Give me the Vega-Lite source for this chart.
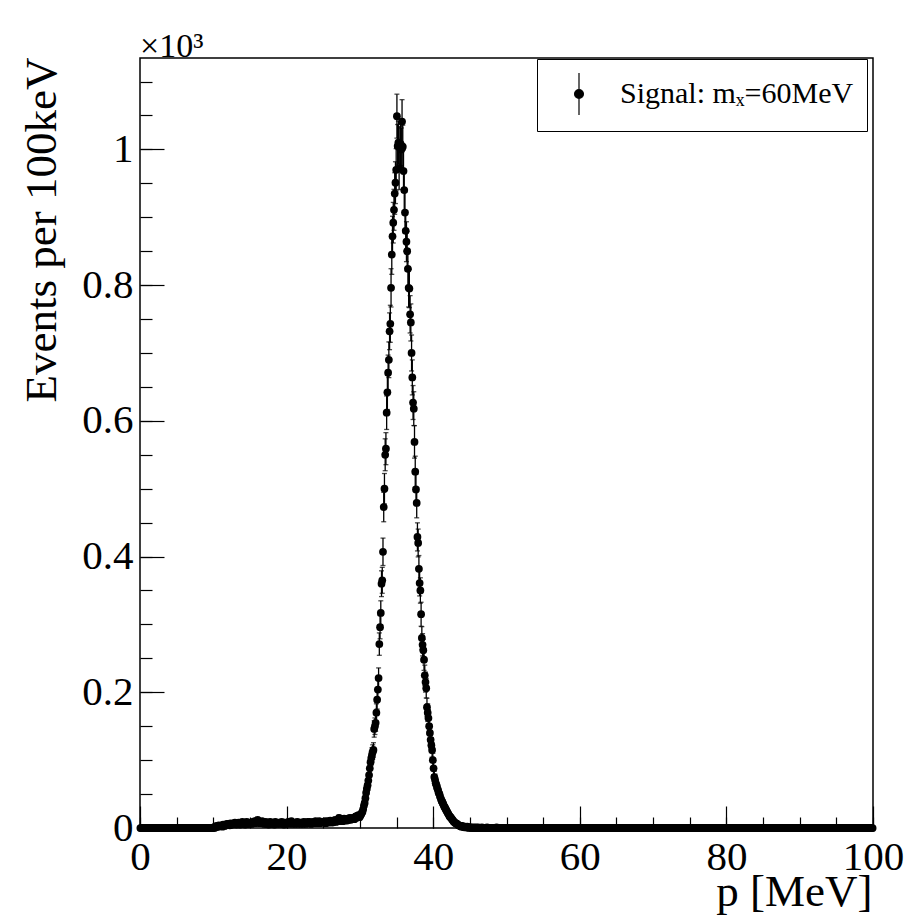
{
"$schema":"https://vega.github.io/schema/vega-lite/v6.json",
"autosize":{"type":"none"},
"padding":{"left":140,"top":58,"right":32,"bottom":87},
"width":733,"height":770,
"background":"white",
"title":{"text":"×10³","anchor":"start","frame":"group","fontSize":34,"font":"Liberation Serif","fontWeight":"normal","color":"black","baseline":"alphabetic","offset":6,"dy":40},
"config":{"view":{"stroke":"black","strokeWidth":1.5},"font":"Liberation Serif"},
"data":{"values":[
{"p":0.05,"n":0},{"p":0.15,"n":0},{"p":0.25,"n":0},{"p":0.35,"n":0},{"p":0.45,"n":0},{"p":0.55,"n":0},{"p":0.65,"n":0},{"p":0.75,"n":0},{"p":0.85,"n":0},{"p":0.95,"n":0},
{"p":1.05,"n":0},{"p":1.15,"n":0},{"p":1.25,"n":0},{"p":1.35,"n":0},{"p":1.45,"n":0},{"p":1.55,"n":0},{"p":1.65,"n":0},{"p":1.75,"n":0},{"p":1.85,"n":0},{"p":1.95,"n":0},
{"p":2.05,"n":0},{"p":2.15,"n":0},{"p":2.25,"n":0},{"p":2.35,"n":0},{"p":2.45,"n":0},{"p":2.55,"n":0},{"p":2.65,"n":0},{"p":2.75,"n":0},{"p":2.85,"n":0},{"p":2.95,"n":0},
{"p":3.05,"n":0},{"p":3.15,"n":0},{"p":3.25,"n":0},{"p":3.35,"n":0},{"p":3.45,"n":0},{"p":3.55,"n":0},{"p":3.65,"n":0},{"p":3.75,"n":0},{"p":3.85,"n":0},{"p":3.95,"n":0},
{"p":4.05,"n":0},{"p":4.15,"n":0},{"p":4.25,"n":0},{"p":4.35,"n":0},{"p":4.45,"n":0},{"p":4.55,"n":0},{"p":4.65,"n":0},{"p":4.75,"n":0},{"p":4.85,"n":0},{"p":4.95,"n":0},
{"p":5.05,"n":0},{"p":5.15,"n":0},{"p":5.25,"n":0},{"p":5.35,"n":0},{"p":5.45,"n":0},{"p":5.55,"n":0},{"p":5.65,"n":0},{"p":5.75,"n":0},{"p":5.85,"n":0},{"p":5.95,"n":0},
{"p":6.05,"n":0},{"p":6.15,"n":0},{"p":6.25,"n":0},{"p":6.35,"n":0},{"p":6.45,"n":0},{"p":6.55,"n":0},{"p":6.65,"n":0},{"p":6.75,"n":0},{"p":6.85,"n":0},{"p":6.95,"n":0},
{"p":7.05,"n":0},{"p":7.15,"n":0},{"p":7.25,"n":0},{"p":7.35,"n":0},{"p":7.45,"n":0},{"p":7.55,"n":0},{"p":7.65,"n":0},{"p":7.75,"n":0},{"p":7.85,"n":0},{"p":7.95,"n":0},
{"p":8.05,"n":0},{"p":8.15,"n":0},{"p":8.25,"n":0},{"p":8.35,"n":0},{"p":8.45,"n":0},{"p":8.55,"n":0},{"p":8.65,"n":0},{"p":8.75,"n":0},{"p":8.85,"n":0},{"p":8.95,"n":0},
{"p":9.05,"n":0},{"p":9.15,"n":0},{"p":9.25,"n":0},{"p":9.35,"n":0},{"p":9.45,"n":0},{"p":9.55,"n":0},{"p":9.65,"n":0},{"p":9.75,"n":0},{"p":9.85,"n":0},{"p":9.95,"n":0},
{"p":10.05,"n":1,"e":1},{"p":10.15,"n":0},{"p":10.25,"n":2,"e":1.4},{"p":10.35,"n":1,"e":1},{"p":10.45,"n":3,"e":1.7},{"p":10.55,"n":2,"e":1.4},{"p":10.65,"n":2,"e":1.4},{"p":10.75,"n":4,"e":2},{"p":10.85,"n":3,"e":1.7},{"p":10.95,"n":3,"e":1.7},
{"p":11.05,"n":3,"e":1.7},{"p":11.15,"n":4,"e":2},{"p":11.25,"n":2,"e":1.4},{"p":11.35,"n":5,"e":2.2},{"p":11.45,"n":4,"e":2},{"p":11.55,"n":3,"e":1.7},{"p":11.65,"n":5,"e":2.2},{"p":11.75,"n":4,"e":2},{"p":11.85,"n":6,"e":2.4},{"p":11.95,"n":5,"e":2.2},
{"p":12.05,"n":5,"e":2.2},{"p":12.15,"n":6,"e":2.4},{"p":12.25,"n":4,"e":2},{"p":12.35,"n":7,"e":2.6},{"p":12.45,"n":5,"e":2.2},{"p":12.55,"n":6,"e":2.4},{"p":12.65,"n":5,"e":2.2},{"p":12.75,"n":7,"e":2.6},{"p":12.85,"n":6,"e":2.4},{"p":12.95,"n":8,"e":2.8},
{"p":13.05,"n":6,"e":2.4},{"p":13.15,"n":5,"e":2.2},{"p":13.25,"n":7,"e":2.6},{"p":13.35,"n":6,"e":2.4},{"p":13.45,"n":8,"e":2.8},{"p":13.55,"n":7,"e":2.6},{"p":13.65,"n":5,"e":2.2},{"p":13.75,"n":6,"e":2.4},{"p":13.85,"n":7,"e":2.6},{"p":13.95,"n":9,"e":3},
{"p":14.05,"n":7,"e":2.6},{"p":14.15,"n":6,"e":2.4},{"p":14.25,"n":8,"e":2.8},{"p":14.35,"n":5,"e":2.2},{"p":14.45,"n":7,"e":2.6},{"p":14.55,"n":9,"e":3},{"p":14.65,"n":6,"e":2.4},{"p":14.75,"n":8,"e":2.8},{"p":14.85,"n":7,"e":2.6},{"p":14.95,"n":6,"e":2.4},
{"p":15.05,"n":8,"e":2.8},{"p":15.15,"n":7,"e":2.6},{"p":15.25,"n":6,"e":2.4},{"p":15.35,"n":9,"e":3},{"p":15.45,"n":7,"e":2.6},{"p":15.55,"n":8,"e":2.8},{"p":15.65,"n":10,"e":3.2},{"p":15.75,"n":7,"e":2.6},{"p":15.85,"n":9,"e":3},{"p":15.95,"n":8,"e":2.8},
{"p":16.05,"n":12,"e":3.5},{"p":16.15,"n":9,"e":3},{"p":16.25,"n":8,"e":2.8},{"p":16.35,"n":7,"e":2.6},{"p":16.45,"n":9,"e":3},{"p":16.55,"n":8,"e":2.8},{"p":16.65,"n":10,"e":3.2},{"p":16.75,"n":7,"e":2.6},{"p":16.85,"n":8,"e":2.8},{"p":16.95,"n":6,"e":2.4},
{"p":17.05,"n":7,"e":2.6},{"p":17.15,"n":9,"e":3},{"p":17.25,"n":6,"e":2.4},{"p":17.35,"n":8,"e":2.8},{"p":17.45,"n":7,"e":2.6},{"p":17.55,"n":5,"e":2.2},{"p":17.65,"n":8,"e":2.8},{"p":17.75,"n":9,"e":3},{"p":17.85,"n":7,"e":2.6},{"p":17.95,"n":6,"e":2.4},
{"p":18.05,"n":8,"e":2.8},{"p":18.15,"n":6,"e":2.4},{"p":18.25,"n":7,"e":2.6},{"p":18.35,"n":5,"e":2.2},{"p":18.45,"n":9,"e":3},{"p":18.55,"n":7,"e":2.6},{"p":18.65,"n":8,"e":2.8},{"p":18.75,"n":6,"e":2.4},{"p":18.85,"n":7,"e":2.6},{"p":18.95,"n":8,"e":2.8},
{"p":19.05,"n":6,"e":2.4},{"p":19.15,"n":8,"e":2.8},{"p":19.25,"n":7,"e":2.6},{"p":19.35,"n":9,"e":3},{"p":19.45,"n":6,"e":2.4},{"p":19.55,"n":7,"e":2.6},{"p":19.65,"n":5,"e":2.2},{"p":19.75,"n":8,"e":2.8},{"p":19.85,"n":6,"e":2.4},{"p":19.95,"n":7,"e":2.6},
{"p":20.05,"n":8,"e":2.8},{"p":20.15,"n":7,"e":2.6},{"p":20.25,"n":9,"e":3},{"p":20.35,"n":6,"e":2.4},{"p":20.45,"n":8,"e":2.8},{"p":20.55,"n":7,"e":2.6},{"p":20.65,"n":10,"e":3.2},{"p":20.75,"n":8,"e":2.8},{"p":20.85,"n":6,"e":2.4},{"p":20.95,"n":7,"e":2.6},
{"p":21.05,"n":7,"e":2.6},{"p":21.15,"n":6,"e":2.4},{"p":21.25,"n":8,"e":2.8},{"p":21.35,"n":7,"e":2.6},{"p":21.45,"n":9,"e":3},{"p":21.55,"n":6,"e":2.4},{"p":21.65,"n":8,"e":2.8},{"p":21.75,"n":7,"e":2.6},{"p":21.85,"n":8,"e":2.8},{"p":21.95,"n":6,"e":2.4},
{"p":22.05,"n":8,"e":2.8},{"p":22.15,"n":7,"e":2.6},{"p":22.25,"n":6,"e":2.4},{"p":22.35,"n":9,"e":3},{"p":22.45,"n":7,"e":2.6},{"p":22.55,"n":8,"e":2.8},{"p":22.65,"n":6,"e":2.4},{"p":22.75,"n":7,"e":2.6},{"p":22.85,"n":9,"e":3},{"p":22.95,"n":8,"e":2.8},
{"p":23.05,"n":7,"e":2.6},{"p":23.15,"n":9,"e":3},{"p":23.25,"n":8,"e":2.8},{"p":23.35,"n":6,"e":2.4},{"p":23.45,"n":8,"e":2.8},{"p":23.55,"n":7,"e":2.6},{"p":23.65,"n":9,"e":3},{"p":23.75,"n":8,"e":2.8},{"p":23.85,"n":7,"e":2.6},{"p":23.95,"n":10,"e":3.2},
{"p":24.05,"n":8,"e":2.8},{"p":24.15,"n":9,"e":3},{"p":24.25,"n":7,"e":2.6},{"p":24.35,"n":8,"e":2.8},{"p":24.45,"n":10,"e":3.2},{"p":24.55,"n":7,"e":2.6},{"p":24.65,"n":9,"e":3},{"p":24.75,"n":8,"e":2.8},{"p":24.85,"n":9,"e":3},{"p":24.95,"n":8,"e":2.8},
{"p":25.05,"n":9,"e":3},{"p":25.15,"n":8,"e":2.8},{"p":25.25,"n":10,"e":3.2},{"p":25.35,"n":7,"e":2.6},{"p":25.45,"n":9,"e":3},{"p":25.55,"n":8,"e":2.8},{"p":25.65,"n":10,"e":3.2},{"p":25.75,"n":9,"e":3},{"p":25.85,"n":8,"e":2.8},{"p":25.95,"n":11,"e":3.3},
{"p":26.05,"n":9,"e":3},{"p":26.15,"n":10,"e":3.2},{"p":26.25,"n":8,"e":2.8},{"p":26.35,"n":11,"e":3.3},{"p":26.45,"n":9,"e":3},{"p":26.55,"n":10,"e":3.2},{"p":26.65,"n":12,"e":3.5},{"p":26.75,"n":9,"e":3},{"p":26.85,"n":11,"e":3.3},{"p":26.95,"n":10,"e":3.2},
{"p":27.05,"n":11,"e":3.3},{"p":27.15,"n":15,"e":3.9},{"p":27.25,"n":10,"e":3.2},{"p":27.35,"n":12,"e":3.5},{"p":27.45,"n":11,"e":3.3},{"p":27.55,"n":13,"e":3.6},{"p":27.65,"n":10,"e":3.2},{"p":27.75,"n":12,"e":3.5},{"p":27.85,"n":14,"e":3.7},{"p":27.95,"n":11,"e":3.3},
{"p":28.05,"n":12,"e":3.5},{"p":28.15,"n":13,"e":3.6},{"p":28.25,"n":11,"e":3.3},{"p":28.35,"n":14,"e":3.7},{"p":28.45,"n":12,"e":3.5},{"p":28.55,"n":13,"e":3.6},{"p":28.65,"n":15,"e":3.9},{"p":28.75,"n":12,"e":3.5},{"p":28.85,"n":14,"e":3.7},{"p":28.95,"n":13,"e":3.6},
{"p":29.05,"n":14,"e":3.7},{"p":29.15,"n":15,"e":3.9},{"p":29.25,"n":13,"e":3.6},{"p":29.35,"n":16,"e":4},{"p":29.45,"n":17,"e":4.1},{"p":29.55,"n":15,"e":3.9},{"p":29.65,"n":18,"e":4.2},{"p":29.75,"n":17,"e":4.1},{"p":29.85,"n":19,"e":4.4},{"p":29.95,"n":16,"e":4},
{"p":30.05,"n":18,"e":4.2},{"p":30.15,"n":20,"e":4.5},{"p":30.25,"n":22,"e":4.7},{"p":30.35,"n":24,"e":4.9},{"p":30.45,"n":28,"e":5.3},{"p":30.55,"n":33,"e":5.7},{"p":30.65,"n":37,"e":6.1},{"p":30.75,"n":44,"e":6.6},{"p":30.85,"n":52,"e":7.2},{"p":30.95,"n":58,"e":7.6},
{"p":31.05,"n":63,"e":7.9},{"p":31.15,"n":70,"e":8.4},{"p":31.25,"n":78,"e":8.8},{"p":31.35,"n":88,"e":9.4},{"p":31.45,"n":97,"e":9.8},{"p":31.55,"n":103,"e":10.1},{"p":31.65,"n":108,"e":10.4},{"p":31.75,"n":112,"e":10.6},{"p":31.85,"n":115,"e":10.7},{"p":31.95,"n":146,"e":12.1},
{"p":32.05,"n":150,"e":12.2},{"p":32.15,"n":155,"e":12.4},{"p":32.25,"n":170,"e":13},{"p":32.35,"n":189,"e":13.7},{"p":32.45,"n":204,"e":14.3},{"p":32.55,"n":221,"e":14.9},{"p":32.65,"n":271,"e":16.5},{"p":32.75,"n":296,"e":17.2},{"p":32.85,"n":317,"e":17.8},{"p":32.95,"n":360,"e":19},
{"p":33.05,"n":365,"e":19.1},{"p":33.15,"n":407,"e":20.2},{"p":33.25,"n":473,"e":21.7},{"p":33.35,"n":500,"e":22.4},{"p":33.45,"n":550,"e":23.5},{"p":33.55,"n":559,"e":23.6},{"p":33.65,"n":612,"e":24.7},{"p":33.75,"n":642,"e":25.3},{"p":33.85,"n":671,"e":25.9},{"p":33.95,"n":690,"e":26.3},
{"p":34.05,"n":732,"e":27.1},{"p":34.15,"n":743,"e":27.3},{"p":34.25,"n":796,"e":28.2},{"p":34.35,"n":845,"e":29.1},{"p":34.45,"n":872,"e":29.5},{"p":34.55,"n":892,"e":29.9},{"p":34.65,"n":911,"e":30.2},{"p":34.75,"n":935,"e":30.6},{"p":34.85,"n":951,"e":30.8},{"p":34.95,"n":970,"e":31.1},
{"p":35.05,"n":1049,"e":32.4},{"p":35.15,"n":1005,"e":31.7},{"p":35.25,"n":1010,"e":31.8},{"p":35.35,"n":972,"e":31.2},{"p":35.45,"n":1002,"e":31.7},{"p":35.55,"n":1008,"e":31.7},{"p":35.65,"n":1000,"e":31.6},{"p":35.75,"n":1041,"e":32.3},{"p":35.85,"n":1004,"e":31.7},{"p":35.95,"n":968,"e":31.1},
{"p":36.05,"n":940,"e":30.7},{"p":36.15,"n":907,"e":30.1},{"p":36.25,"n":880,"e":29.7},{"p":36.35,"n":864,"e":29.4},{"p":36.45,"n":850,"e":29.2},{"p":36.55,"n":824,"e":28.7},{"p":36.65,"n":796,"e":28.2},{"p":36.75,"n":795,"e":28.2},{"p":36.85,"n":757,"e":27.5},{"p":36.95,"n":745,"e":27.3},
{"p":37.05,"n":700,"e":26.5},{"p":37.15,"n":664,"e":25.8},{"p":37.25,"n":627,"e":25},{"p":37.35,"n":618,"e":24.9},{"p":37.45,"n":569,"e":23.9},{"p":37.55,"n":525,"e":22.9},{"p":37.65,"n":499,"e":22.3},{"p":37.75,"n":479,"e":21.9},{"p":37.85,"n":429,"e":20.7},{"p":37.95,"n":420,"e":20.5},
{"p":38.05,"n":382,"e":19.5},{"p":38.15,"n":361,"e":19},{"p":38.25,"n":350,"e":18.7},{"p":38.35,"n":315,"e":17.7},{"p":38.45,"n":280,"e":16.7},{"p":38.55,"n":270,"e":16.4},{"p":38.65,"n":262,"e":16.2},{"p":38.75,"n":248,"e":15.7},{"p":38.85,"n":225,"e":15},{"p":38.95,"n":215,"e":14.7},
{"p":39.05,"n":206,"e":14.4},{"p":39.15,"n":178,"e":13.3},{"p":39.25,"n":170,"e":13},{"p":39.35,"n":162,"e":12.7},{"p":39.45,"n":150,"e":12.2},{"p":39.55,"n":140,"e":11.8},{"p":39.65,"n":130,"e":11.4},{"p":39.75,"n":122,"e":11},{"p":39.85,"n":115,"e":10.7},{"p":39.95,"n":100,"e":10},
{"p":40.05,"n":88,"e":9.4},{"p":40.15,"n":75,"e":8.7},{"p":40.25,"n":71,"e":8.4},{"p":40.35,"n":66,"e":8.1},{"p":40.45,"n":63,"e":7.9},{"p":40.55,"n":59,"e":7.7},{"p":40.65,"n":56,"e":7.5},{"p":40.75,"n":52,"e":7.2},{"p":40.85,"n":50,"e":7.1},{"p":40.95,"n":46,"e":6.8},
{"p":41.05,"n":43,"e":6.6},{"p":41.15,"n":40,"e":6.3},{"p":41.25,"n":38,"e":6.2},{"p":41.35,"n":36,"e":6},{"p":41.45,"n":33,"e":5.7},{"p":41.55,"n":31,"e":5.6},{"p":41.65,"n":29,"e":5.4},{"p":41.75,"n":27,"e":5.2},{"p":41.85,"n":25,"e":5},{"p":41.95,"n":23,"e":4.8},
{"p":42.05,"n":21,"e":4.6},{"p":42.15,"n":19,"e":4.4},{"p":42.25,"n":17,"e":4.1},{"p":42.35,"n":16,"e":4},{"p":42.45,"n":15,"e":3.9},{"p":42.55,"n":13,"e":3.6},{"p":42.65,"n":12,"e":3.5},{"p":42.75,"n":10,"e":3.2},{"p":42.85,"n":9,"e":3},{"p":42.95,"n":8,"e":2.8},
{"p":43.05,"n":7,"e":2.6},{"p":43.15,"n":7,"e":2.6},{"p":43.25,"n":6,"e":2.4},{"p":43.35,"n":5,"e":2.2},{"p":43.45,"n":4,"e":2},{"p":43.55,"n":4,"e":2},{"p":43.65,"n":3,"e":1.7},{"p":43.75,"n":3,"e":1.7},{"p":43.85,"n":2,"e":1.4},{"p":43.95,"n":3,"e":1.7},
{"p":44.05,"n":2,"e":1.4},{"p":44.15,"n":2,"e":1.4},{"p":44.25,"n":1,"e":1},{"p":44.35,"n":2,"e":1.4},{"p":44.45,"n":1,"e":1},{"p":44.55,"n":1,"e":1},{"p":44.65,"n":2,"e":1.4},{"p":44.75,"n":1,"e":1},{"p":44.85,"n":0},{"p":44.95,"n":1,"e":1},
{"p":45.05,"n":1,"e":1},{"p":45.15,"n":0},{"p":45.25,"n":1,"e":1},{"p":45.35,"n":0},{"p":45.45,"n":0},{"p":45.55,"n":1,"e":1},{"p":45.65,"n":0},{"p":45.75,"n":0},{"p":45.85,"n":1,"e":1},{"p":45.95,"n":0},
{"p":46.05,"n":0},{"p":46.15,"n":1,"e":1},{"p":46.25,"n":0},{"p":46.35,"n":0},{"p":46.45,"n":0},{"p":46.55,"n":0},{"p":46.65,"n":1,"e":1},{"p":46.75,"n":0},{"p":46.85,"n":0},{"p":46.95,"n":0},
{"p":47.05,"n":0},{"p":47.15,"n":0},{"p":47.25,"n":0},{"p":47.35,"n":1,"e":1},{"p":47.45,"n":0},{"p":47.55,"n":0},{"p":47.65,"n":0},{"p":47.75,"n":0},{"p":47.85,"n":0},{"p":47.95,"n":0},
{"p":48.05,"n":0},{"p":48.15,"n":0},{"p":48.25,"n":0},{"p":48.35,"n":0},{"p":48.45,"n":0},{"p":48.55,"n":0},{"p":48.65,"n":1,"e":1},{"p":48.75,"n":0},{"p":48.85,"n":0},{"p":48.95,"n":0},
{"p":49.05,"n":0},{"p":49.15,"n":0},{"p":49.25,"n":0},{"p":49.35,"n":0},{"p":49.45,"n":0},{"p":49.55,"n":0},{"p":49.65,"n":0},{"p":49.75,"n":0},{"p":49.85,"n":0},{"p":49.95,"n":0},
{"p":50.05,"n":0},{"p":50.15,"n":0},{"p":50.25,"n":0},{"p":50.35,"n":0},{"p":50.45,"n":0},{"p":50.55,"n":0},{"p":50.65,"n":0},{"p":50.75,"n":0},{"p":50.85,"n":0},{"p":50.95,"n":0},
{"p":51.05,"n":0},{"p":51.15,"n":0},{"p":51.25,"n":0},{"p":51.35,"n":0},{"p":51.45,"n":0},{"p":51.55,"n":0},{"p":51.65,"n":0},{"p":51.75,"n":0},{"p":51.85,"n":0},{"p":51.95,"n":0},
{"p":52.05,"n":0},{"p":52.15,"n":0},{"p":52.25,"n":0},{"p":52.35,"n":0},{"p":52.45,"n":0},{"p":52.55,"n":0},{"p":52.65,"n":0},{"p":52.75,"n":0},{"p":52.85,"n":0},{"p":52.95,"n":0},
{"p":53.05,"n":0},{"p":53.15,"n":0},{"p":53.25,"n":0},{"p":53.35,"n":0},{"p":53.45,"n":0},{"p":53.55,"n":0},{"p":53.65,"n":0},{"p":53.75,"n":0},{"p":53.85,"n":0},{"p":53.95,"n":0},
{"p":54.05,"n":0},{"p":54.15,"n":0},{"p":54.25,"n":0},{"p":54.35,"n":0},{"p":54.45,"n":0},{"p":54.55,"n":0},{"p":54.65,"n":0},{"p":54.75,"n":0},{"p":54.85,"n":0},{"p":54.95,"n":0},
{"p":55.05,"n":0},{"p":55.15,"n":0},{"p":55.25,"n":0},{"p":55.35,"n":0},{"p":55.45,"n":0},{"p":55.55,"n":0},{"p":55.65,"n":0},{"p":55.75,"n":0},{"p":55.85,"n":0},{"p":55.95,"n":0},
{"p":56.05,"n":0},{"p":56.15,"n":0},{"p":56.25,"n":0},{"p":56.35,"n":0},{"p":56.45,"n":0},{"p":56.55,"n":0},{"p":56.65,"n":0},{"p":56.75,"n":0},{"p":56.85,"n":0},{"p":56.95,"n":0},
{"p":57.05,"n":0},{"p":57.15,"n":0},{"p":57.25,"n":0},{"p":57.35,"n":0},{"p":57.45,"n":0},{"p":57.55,"n":0},{"p":57.65,"n":0},{"p":57.75,"n":0},{"p":57.85,"n":0},{"p":57.95,"n":0},
{"p":58.05,"n":0},{"p":58.15,"n":0},{"p":58.25,"n":0},{"p":58.35,"n":0},{"p":58.45,"n":0},{"p":58.55,"n":0},{"p":58.65,"n":0},{"p":58.75,"n":0},{"p":58.85,"n":0},{"p":58.95,"n":0},
{"p":59.05,"n":0},{"p":59.15,"n":0},{"p":59.25,"n":0},{"p":59.35,"n":0},{"p":59.45,"n":0},{"p":59.55,"n":0},{"p":59.65,"n":0},{"p":59.75,"n":0},{"p":59.85,"n":0},{"p":59.95,"n":0},
{"p":60.05,"n":0},{"p":60.15,"n":0},{"p":60.25,"n":0},{"p":60.35,"n":0},{"p":60.45,"n":0},{"p":60.55,"n":0},{"p":60.65,"n":0},{"p":60.75,"n":0},{"p":60.85,"n":0},{"p":60.95,"n":0},
{"p":61.05,"n":0},{"p":61.15,"n":0},{"p":61.25,"n":0},{"p":61.35,"n":0},{"p":61.45,"n":0},{"p":61.55,"n":0},{"p":61.65,"n":0},{"p":61.75,"n":0},{"p":61.85,"n":0},{"p":61.95,"n":0},
{"p":62.05,"n":0},{"p":62.15,"n":0},{"p":62.25,"n":0},{"p":62.35,"n":0},{"p":62.45,"n":0},{"p":62.55,"n":0},{"p":62.65,"n":0},{"p":62.75,"n":0},{"p":62.85,"n":0},{"p":62.95,"n":0},
{"p":63.05,"n":0},{"p":63.15,"n":0},{"p":63.25,"n":0},{"p":63.35,"n":0},{"p":63.45,"n":0},{"p":63.55,"n":0},{"p":63.65,"n":0},{"p":63.75,"n":0},{"p":63.85,"n":0},{"p":63.95,"n":0},
{"p":64.05,"n":0},{"p":64.15,"n":0},{"p":64.25,"n":0},{"p":64.35,"n":0},{"p":64.45,"n":0},{"p":64.55,"n":0},{"p":64.65,"n":0},{"p":64.75,"n":0},{"p":64.85,"n":0},{"p":64.95,"n":0},
{"p":65.05,"n":0},{"p":65.15,"n":0},{"p":65.25,"n":0},{"p":65.35,"n":0},{"p":65.45,"n":0},{"p":65.55,"n":0},{"p":65.65,"n":0},{"p":65.75,"n":0},{"p":65.85,"n":0},{"p":65.95,"n":0},
{"p":66.05,"n":0},{"p":66.15,"n":0},{"p":66.25,"n":0},{"p":66.35,"n":0},{"p":66.45,"n":0},{"p":66.55,"n":0},{"p":66.65,"n":0},{"p":66.75,"n":0},{"p":66.85,"n":0},{"p":66.95,"n":0},
{"p":67.05,"n":0},{"p":67.15,"n":0},{"p":67.25,"n":0},{"p":67.35,"n":0},{"p":67.45,"n":0},{"p":67.55,"n":0},{"p":67.65,"n":0},{"p":67.75,"n":0},{"p":67.85,"n":0},{"p":67.95,"n":0},
{"p":68.05,"n":0},{"p":68.15,"n":0},{"p":68.25,"n":0},{"p":68.35,"n":0},{"p":68.45,"n":0},{"p":68.55,"n":0},{"p":68.65,"n":0},{"p":68.75,"n":0},{"p":68.85,"n":0},{"p":68.95,"n":0},
{"p":69.05,"n":0},{"p":69.15,"n":0},{"p":69.25,"n":0},{"p":69.35,"n":0},{"p":69.45,"n":0},{"p":69.55,"n":0},{"p":69.65,"n":0},{"p":69.75,"n":0},{"p":69.85,"n":0},{"p":69.95,"n":0},
{"p":70.05,"n":0},{"p":70.15,"n":0},{"p":70.25,"n":0},{"p":70.35,"n":0},{"p":70.45,"n":0},{"p":70.55,"n":0},{"p":70.65,"n":0},{"p":70.75,"n":0},{"p":70.85,"n":0},{"p":70.95,"n":0},
{"p":71.05,"n":0},{"p":71.15,"n":0},{"p":71.25,"n":0},{"p":71.35,"n":0},{"p":71.45,"n":0},{"p":71.55,"n":0},{"p":71.65,"n":0},{"p":71.75,"n":0},{"p":71.85,"n":0},{"p":71.95,"n":0},
{"p":72.05,"n":0},{"p":72.15,"n":0},{"p":72.25,"n":0},{"p":72.35,"n":0},{"p":72.45,"n":0},{"p":72.55,"n":0},{"p":72.65,"n":0},{"p":72.75,"n":0},{"p":72.85,"n":0},{"p":72.95,"n":0},
{"p":73.05,"n":0},{"p":73.15,"n":0},{"p":73.25,"n":0},{"p":73.35,"n":0},{"p":73.45,"n":0},{"p":73.55,"n":0},{"p":73.65,"n":0},{"p":73.75,"n":0},{"p":73.85,"n":0},{"p":73.95,"n":0},
{"p":74.05,"n":0},{"p":74.15,"n":0},{"p":74.25,"n":0},{"p":74.35,"n":0},{"p":74.45,"n":0},{"p":74.55,"n":0},{"p":74.65,"n":0},{"p":74.75,"n":0},{"p":74.85,"n":0},{"p":74.95,"n":0},
{"p":75.05,"n":0},{"p":75.15,"n":0},{"p":75.25,"n":0},{"p":75.35,"n":0},{"p":75.45,"n":0},{"p":75.55,"n":0},{"p":75.65,"n":0},{"p":75.75,"n":0},{"p":75.85,"n":0},{"p":75.95,"n":0},
{"p":76.05,"n":0},{"p":76.15,"n":0},{"p":76.25,"n":0},{"p":76.35,"n":0},{"p":76.45,"n":0},{"p":76.55,"n":0},{"p":76.65,"n":0},{"p":76.75,"n":0},{"p":76.85,"n":0},{"p":76.95,"n":0},
{"p":77.05,"n":0},{"p":77.15,"n":0},{"p":77.25,"n":0},{"p":77.35,"n":0},{"p":77.45,"n":0},{"p":77.55,"n":0},{"p":77.65,"n":0},{"p":77.75,"n":0},{"p":77.85,"n":0},{"p":77.95,"n":0},
{"p":78.05,"n":0},{"p":78.15,"n":0},{"p":78.25,"n":0},{"p":78.35,"n":0},{"p":78.45,"n":0},{"p":78.55,"n":0},{"p":78.65,"n":0},{"p":78.75,"n":0},{"p":78.85,"n":0},{"p":78.95,"n":0},
{"p":79.05,"n":0},{"p":79.15,"n":0},{"p":79.25,"n":0},{"p":79.35,"n":0},{"p":79.45,"n":0},{"p":79.55,"n":0},{"p":79.65,"n":0},{"p":79.75,"n":0},{"p":79.85,"n":0},{"p":79.95,"n":0},
{"p":80.05,"n":0},{"p":80.15,"n":0},{"p":80.25,"n":0},{"p":80.35,"n":0},{"p":80.45,"n":0},{"p":80.55,"n":0},{"p":80.65,"n":0},{"p":80.75,"n":0},{"p":80.85,"n":0},{"p":80.95,"n":0},
{"p":81.05,"n":0},{"p":81.15,"n":0},{"p":81.25,"n":0},{"p":81.35,"n":0},{"p":81.45,"n":0},{"p":81.55,"n":0},{"p":81.65,"n":0},{"p":81.75,"n":0},{"p":81.85,"n":0},{"p":81.95,"n":0},
{"p":82.05,"n":0},{"p":82.15,"n":0},{"p":82.25,"n":0},{"p":82.35,"n":0},{"p":82.45,"n":0},{"p":82.55,"n":0},{"p":82.65,"n":0},{"p":82.75,"n":0},{"p":82.85,"n":0},{"p":82.95,"n":0},
{"p":83.05,"n":0},{"p":83.15,"n":0},{"p":83.25,"n":0},{"p":83.35,"n":0},{"p":83.45,"n":0},{"p":83.55,"n":0},{"p":83.65,"n":0},{"p":83.75,"n":0},{"p":83.85,"n":0},{"p":83.95,"n":0},
{"p":84.05,"n":0},{"p":84.15,"n":0},{"p":84.25,"n":0},{"p":84.35,"n":0},{"p":84.45,"n":0},{"p":84.55,"n":0},{"p":84.65,"n":0},{"p":84.75,"n":0},{"p":84.85,"n":0},{"p":84.95,"n":0},
{"p":85.05,"n":0},{"p":85.15,"n":0},{"p":85.25,"n":0},{"p":85.35,"n":0},{"p":85.45,"n":0},{"p":85.55,"n":0},{"p":85.65,"n":0},{"p":85.75,"n":0},{"p":85.85,"n":0},{"p":85.95,"n":0},
{"p":86.05,"n":0},{"p":86.15,"n":0},{"p":86.25,"n":0},{"p":86.35,"n":0},{"p":86.45,"n":0},{"p":86.55,"n":0},{"p":86.65,"n":0},{"p":86.75,"n":0},{"p":86.85,"n":0},{"p":86.95,"n":0},
{"p":87.05,"n":0},{"p":87.15,"n":0},{"p":87.25,"n":0},{"p":87.35,"n":0},{"p":87.45,"n":0},{"p":87.55,"n":0},{"p":87.65,"n":0},{"p":87.75,"n":0},{"p":87.85,"n":0},{"p":87.95,"n":0},
{"p":88.05,"n":0},{"p":88.15,"n":0},{"p":88.25,"n":0},{"p":88.35,"n":0},{"p":88.45,"n":0},{"p":88.55,"n":0},{"p":88.65,"n":0},{"p":88.75,"n":0},{"p":88.85,"n":0},{"p":88.95,"n":0},
{"p":89.05,"n":0},{"p":89.15,"n":0},{"p":89.25,"n":0},{"p":89.35,"n":0},{"p":89.45,"n":0},{"p":89.55,"n":0},{"p":89.65,"n":0},{"p":89.75,"n":0},{"p":89.85,"n":0},{"p":89.95,"n":0},
{"p":90.05,"n":0},{"p":90.15,"n":0},{"p":90.25,"n":0},{"p":90.35,"n":0},{"p":90.45,"n":0},{"p":90.55,"n":0},{"p":90.65,"n":0},{"p":90.75,"n":0},{"p":90.85,"n":0},{"p":90.95,"n":0},
{"p":91.05,"n":0},{"p":91.15,"n":0},{"p":91.25,"n":0},{"p":91.35,"n":0},{"p":91.45,"n":0},{"p":91.55,"n":0},{"p":91.65,"n":0},{"p":91.75,"n":0},{"p":91.85,"n":0},{"p":91.95,"n":0},
{"p":92.05,"n":0},{"p":92.15,"n":0},{"p":92.25,"n":0},{"p":92.35,"n":0},{"p":92.45,"n":0},{"p":92.55,"n":0},{"p":92.65,"n":0},{"p":92.75,"n":0},{"p":92.85,"n":0},{"p":92.95,"n":0},
{"p":93.05,"n":0},{"p":93.15,"n":0},{"p":93.25,"n":0},{"p":93.35,"n":0},{"p":93.45,"n":0},{"p":93.55,"n":0},{"p":93.65,"n":0},{"p":93.75,"n":0},{"p":93.85,"n":0},{"p":93.95,"n":0},
{"p":94.05,"n":0},{"p":94.15,"n":0},{"p":94.25,"n":0},{"p":94.35,"n":0},{"p":94.45,"n":0},{"p":94.55,"n":0},{"p":94.65,"n":0},{"p":94.75,"n":0},{"p":94.85,"n":0},{"p":94.95,"n":0},
{"p":95.05,"n":0},{"p":95.15,"n":0},{"p":95.25,"n":0},{"p":95.35,"n":0},{"p":95.45,"n":0},{"p":95.55,"n":0},{"p":95.65,"n":0},{"p":95.75,"n":0},{"p":95.85,"n":0},{"p":95.95,"n":0},
{"p":96.05,"n":0},{"p":96.15,"n":0},{"p":96.25,"n":0},{"p":96.35,"n":0},{"p":96.45,"n":0},{"p":96.55,"n":0},{"p":96.65,"n":0},{"p":96.75,"n":0},{"p":96.85,"n":0},{"p":96.95,"n":0},
{"p":97.05,"n":0},{"p":97.15,"n":0},{"p":97.25,"n":0},{"p":97.35,"n":0},{"p":97.45,"n":0},{"p":97.55,"n":0},{"p":97.65,"n":0},{"p":97.75,"n":0},{"p":97.85,"n":0},{"p":97.95,"n":0},
{"p":98.05,"n":0},{"p":98.15,"n":0},{"p":98.25,"n":0},{"p":98.35,"n":0},{"p":98.45,"n":0},{"p":98.55,"n":0},{"p":98.65,"n":0},{"p":98.75,"n":0},{"p":98.85,"n":0},{"p":98.95,"n":0},
{"p":99.05,"n":0},{"p":99.15,"n":0},{"p":99.25,"n":0},{"p":99.35,"n":0},{"p":99.45,"n":0},{"p":99.55,"n":0},{"p":99.65,"n":0},{"p":99.75,"n":0},{"p":99.85,"n":0},{"p":99.95,"n":0}
]},
"layer":[
{"transform":[{"filter":"datum.e > 0"}],
 "mark":{"type":"errorbar","ticks":true,"size":5,"thickness":1.3,"color":"black"},
 "encoding":{
  "x":{"field":"p","type":"quantitative","scale":{"domain":[0,100],"nice":false,"zero":false},
       "axis":{"orient":"bottom","values":[0,5,10,15,20,25,30,35,40,45,50,55,60,65,70,75,80,85,90,95,100],"tickSize":-11,"labels":false,"domain":false,"grid":false,"title":null,"tickColor":"black","tickWidth":1.2}},
  "y":{"field":"n","type":"quantitative","scale":{"domain":[0,1134.7],"nice":false,"zero":false},
       "axis":{"orient":"left","values":[0,50,100,150,200,250,300,350,400,450,500,550,600,650,700,750,800,850,900,950,1000,1050,1100],"tickSize":-12,"labels":false,"domain":false,"grid":false,"title":null,"tickColor":"black","tickWidth":1.2}},
  "yError":{"field":"e"}
 }},
{"mark":{"type":"circle","size":60,"opacity":1},
 "encoding":{
  "x":{"field":"p","type":"quantitative","scale":{"domain":[0,100],"nice":false,"zero":false},
       "axis":{"orient":"bottom","values":[0,20,40,60,80,100],"tickSize":-22,"labelPadding":31,"labelFontSize":41,"labelFont":"Liberation Serif","labelColor":"black","labelFlush":false,"labelOverlap":false,"domain":false,"grid":false,"tickColor":"black","tickWidth":1.2,
               "title":"p [MeV]","titleFont":"Liberation Serif","titleFontSize":45,"titleFontWeight":"normal","titleColor":"black","titleAlign":"right","titleAnchor":"end","titleBaseline":"alphabetic","titleX":732,"titleY":77}},
  "y":{"field":"n","type":"quantitative","scale":{"domain":[0,1134.7],"nice":false,"zero":false},
       "axis":{"orient":"left","values":[0,200,400,600,800,1000],"labelExpr":"datum.value / 1000","tickSize":-24,"labelPadding":31,"labelFontSize":41,"labelFont":"Liberation Serif","labelColor":"black","labelOverlap":false,"labelFlush":false,"domain":false,"grid":false,"tickColor":"black","tickWidth":1.2,
               "title":"Events per 100keV","titleFont":"Liberation Serif","titleFontSize":45,"titleFontWeight":"normal","titleColor":"black","titleAngle":270,"titleAlign":"right","titleAnchor":"end","titleBaseline":"alphabetic","titleX":-85,"titleY":-1}},
  "color":{"datum":"Signal: mₓ=60MeV\u00a0","type":"nominal","scale":{"range":["black"]},
       "legend":{"orient":"none","legendX":397,"legendY":1,"title":null,"symbolType":"M0,-1V1M-0.21,0A0.21,0.21,0,1,0,0.21,0A0.21,0.21,0,1,0,-0.21,0Z","symbolSize":1764,"symbolStrokeColor":"black","symbolFillColor":"black","symbolStrokeWidth":1.2,"labelFont":"Liberation Serif","labelFontSize":30,"labelColor":"black","labelLimit":400,"padding":13,"strokeColor":"black","fillColor":"white","labelOffset":19,"symbolOffset":7}}
 }}
],
"resolve":{"axis":{"x":"independent","y":"independent"}}
}
